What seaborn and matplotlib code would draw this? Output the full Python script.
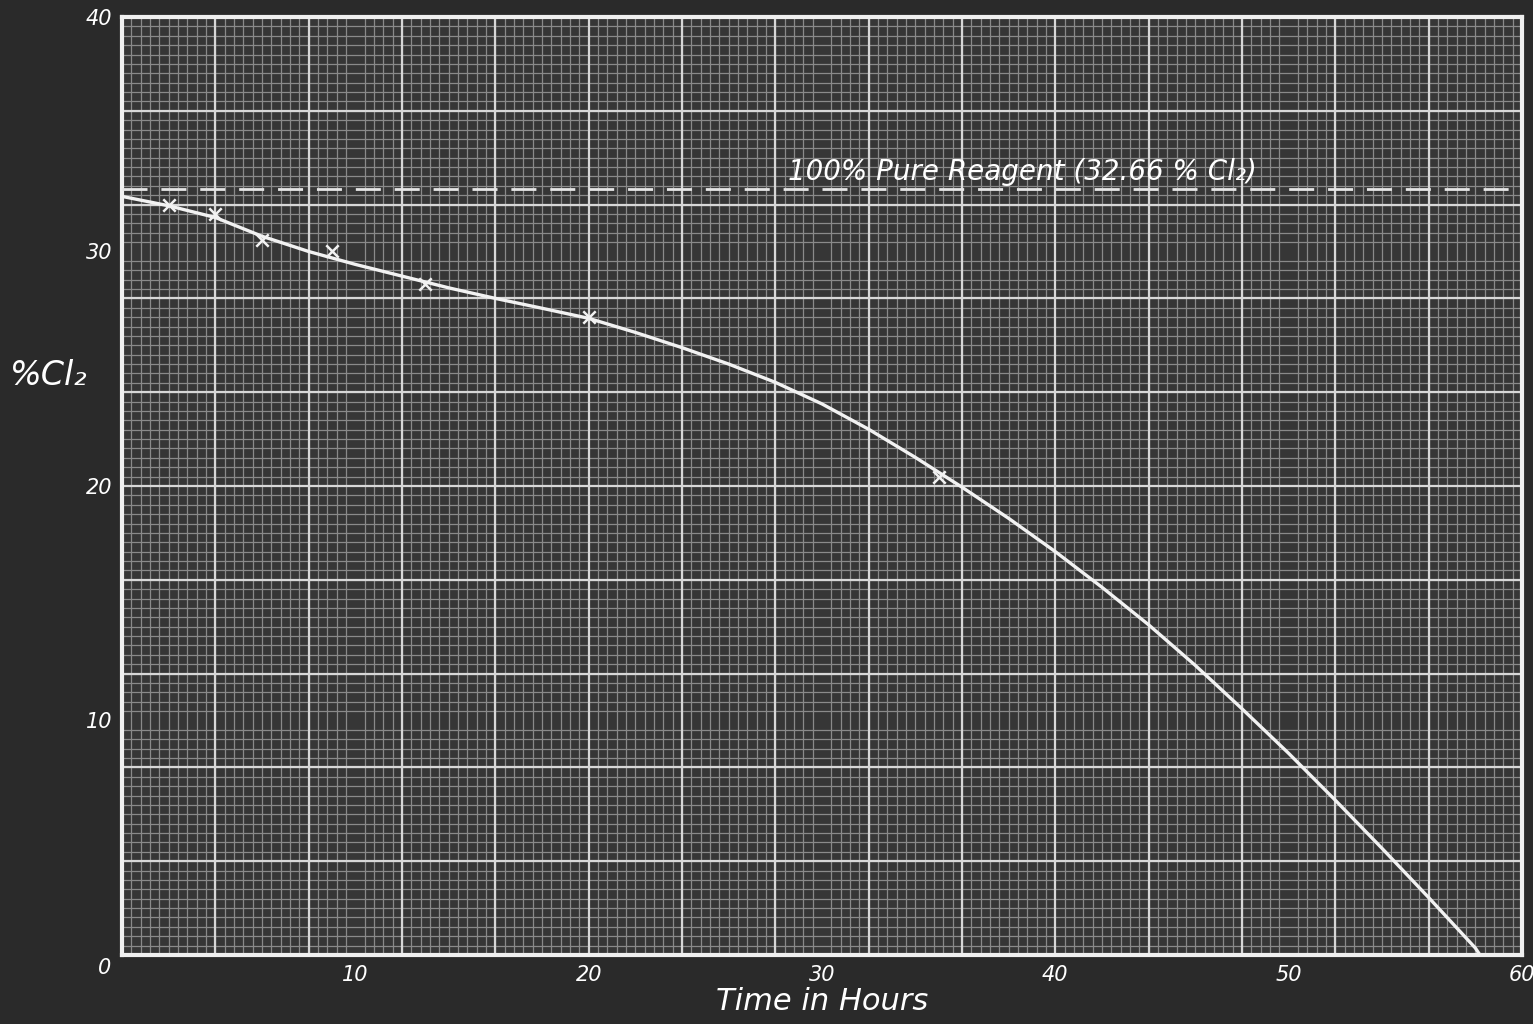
import numpy as np
import pandas as pd
import matplotlib
matplotlib.use("Agg")
import matplotlib.pyplot as plt
import matplotlib.transforms as mtransforms
from matplotlib.ticker import MultipleLocator
import seaborn as sns

# measured points (marked x on the sheet)
hours = [2, 4, 6, 9, 13, 20, 35]
pct_cl2 = [32.0, 31.6, 30.5, 30.0, 28.6, 27.2, 20.4]

# drawn curve
curve_hours = [0, 2, 4, 6, 8, 10, 12, 14, 16, 18, 20, 22, 24, 26, 28, 30,
               32, 34, 36, 38, 40, 42, 44, 46, 48, 50, 52, 54, 56, 58, 58.2]
curve_pct = [32.35, 31.95, 31.45, 30.65, 30.0, 29.45, 28.95, 28.45, 28.0, 27.58,
             27.15, 26.55, 25.9, 25.2, 24.42, 23.5, 22.42, 21.22, 19.95, 18.62,
             17.2, 15.68, 14.08, 12.35, 10.5, 8.6, 6.6, 4.55, 2.45, 0.3, 0.0]

pure_reagent = 32.66
pure_label = "100% Pure Reagent (32.66 % Cl₂)"

x_ticks = [0, 10, 20, 30, 40, 50, 60]
y_ticks = [10, 20, 30, 40]

bg = "#2a2a2a"
paper = "#363636"
sns.set_theme(style="dark", rc={"figure.facecolor": bg, "axes.facecolor": paper})
plt.rcParams["font.family"] = ["DejaVu Sans"]

fig = plt.figure(figsize=(15.33, 10.24), dpi=100)
ax = fig.add_axes([0.0796, 0.0674, 0.9132, 0.916])

ax.set_xlim(0, 60)
ax.set_ylim(0, 40)

# graph paper: fine grid every 0.4, heavy lines every 4
ax.xaxis.set_minor_locator(MultipleLocator(0.4))
ax.yaxis.set_minor_locator(MultipleLocator(0.4))
ax.grid(False, which="major")
ax.grid(True, which="minor", color="#8a8a8a", linewidth=0.9)
ax.vlines(np.arange(4, 60, 4), 0, 40, color="#d8d8d8", linewidth=1.6, zorder=1)
ax.hlines(np.arange(4, 40, 4), 0, 60, color="#d8d8d8", linewidth=1.6, zorder=1)

curve = pd.DataFrame({"t": curve_hours, "p": curve_pct})
pts = pd.DataFrame({"t": hours, "p": pct_cl2})
sns.lineplot(data=curve, x="t", y="p", ax=ax, color="#f2f2f2", linewidth=2.4,
             zorder=4)
sns.scatterplot(data=pts, x="t", y="p", ax=ax, marker="x", s=80, color="#f2f2f2",
                linewidth=1.8, zorder=5)

ax.axhline(pure_reagent, color="#e6e6e6", linewidth=2, dashes=(9, 5), zorder=3)
ax.text(38.6, pure_reagent + 0.12, pure_label, color="white", fontsize=20,
        style="italic", ha="center", va="bottom", zorder=6)

ax.set_xticks(x_ticks)
ax.set_yticks(y_ticks)
ax.tick_params(which="both", length=0, colors="white", labelsize=15, pad=7)
for lab in ax.get_xticklabels() + ax.get_yticklabels():
    lab.set_style("italic")
first = ax.get_xticklabels()[0]
first.set_transform(first.get_transform() +
                    mtransforms.ScaledTranslation(-0.17, 0.07, fig.dpi_scale_trans))

ax.set_xlabel("Time in Hours", color="white", fontsize=22, style="italic",
              labelpad=2)
ax.set_ylabel("%Cl₂", color="white", fontsize=24, style="italic", rotation=0,
              va="center", labelpad=30)
ax.yaxis.set_label_coords(-0.052, 0.618)

for s in ax.spines.values():
    s.set_visible(True)
    s.set_color("#f0f0f0")
    s.set_linewidth(3)

fig.savefig("out.png", dpi=100, facecolor=bg)
